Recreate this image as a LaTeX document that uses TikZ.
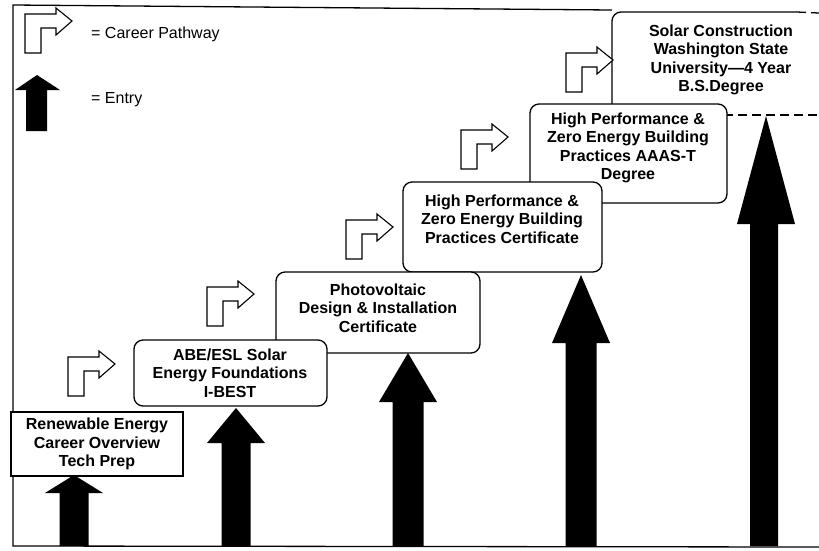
\documentclass[tikz,border=0pt]{standalone}
\usepackage{fontspec}
\setmainfont{Liberation Sans}
\begin{document}
\begin{tikzpicture}[x=1pt,y=-1pt,
  frameline/.style={line width=1.3pt},
  boxline/.style={line width=1.3pt},
  sqbox/.style={draw, boxline, fill=white, inner sep=0pt, outer sep=0pt, anchor=north west},
  rbox/.style={sqbox, rounded corners=9pt},
  boxtext/.style={align=center, inner sep=0pt, font=\bfseries\fontsize{16}{18.5}\selectfont},
  legtext/.style={anchor=west, inner sep=0pt, font=\fontsize{16}{18}\selectfont},
  entryfill/.style={fill=black},
  pathline/.style={draw, line width=1.1pt, fill=white, line join=miter},
  pathway/.pic={\path[pathline] (0,0) -- (0,-39) -- (31,-39) -- (31,-45) -- (47,-32) -- (31,-18) -- (31,-25) -- (16,-25) -- (16,0) -- cycle;}
]
\useasboundingbox (0,0) rectangle (819,550);
\fill[white] (0,0) rectangle (819,550);
% frame
\draw[frameline] (612,10) -- (13,5) -- (13,546) -- (819,547);
% box 6 (cut by the page edge)
\begin{scope}
\clip (0,0) rectangle (819,550);
\node[inner sep=0pt, outer sep=0pt, minimum width=218pt, minimum height=103pt, anchor=north west] (b6) at (612,12) {};
\fill[white, rounded corners=9pt] (612,12) rectangle (830,115);
\draw[boxline, rounded corners=9pt] (b6.south west) -- (612,12) -- (797,12);
\draw[boxline, dash pattern=on 9pt off 5pt] (797,12) -- (819,13);
\draw[boxline, dash pattern=on 9pt off 5pt] (612,115) -- (819,115);
\end{scope}
\node[boxtext] (t6) at (721,60) {Solar Construction\\Washington State\\University—4 Year\\B.S.Degree};
% box 5
\node[rbox, minimum width=197pt, minimum height=99pt] (b5) at (530,104) {};
\node[boxtext] (t5) at (628,148) {High Performance \&\\Zero Energy Building\\Practices AAAS-T\\Degree};
% box 4
\node[rbox, minimum width=199pt, minimum height=90pt] (b4) at (403,182) {};
\node[boxtext] (t4) at (502,219) {High Performance \&\\Zero Energy Building\\Practices Certificate};
% box 3
\node[rbox, minimum width=204pt, minimum height=81pt] (b3) at (276,272) {};
\node[boxtext] (t3) at (378,308) {Photovoltaic\\Design \& Installation\\Certificate};
% box 2
\node[rbox, minimum width=193pt, minimum height=66pt] (b2) at (134,340) {};
\node[boxtext] (t2) at (230,373) {ABE/ESL Solar\\Energy Foundations\\I-BEST};
% box 1
\node[sqbox, minimum width=172pt, minimum height=64pt] (b1) at (11,412) {};
\node[boxtext] (t1) at (97,444) {Renewable Energy\\Career Overview\\Tech Prep};
% entry arrows
\fill[entryfill] (59.5,546) -- (59.5,493) -- (45,493) -- (74,475) -- (103,493) -- (88.5,493) -- (88.5,546) -- cycle;
\fill[entryfill] (221.5,546) -- (221.5,443) -- (207,443) -- (236,408) -- (265,443) -- (250.5,443) -- (250.5,546) -- cycle;
\fill[entryfill] (392.5,546) -- (392.5,402) -- (379,402) -- (408,353) -- (437,402) -- (423.5,402) -- (423.5,546) -- cycle;
\fill[entryfill] (565.5,546) -- (565.5,343) -- (552,343) -- (581,275) -- (610,343) -- (596.5,343) -- (596.5,546) -- cycle;
\fill[entryfill] (750,546) -- (750,224) -- (737,224) -- (766,116) -- (795,224) -- (778,224) -- (778,546) -- cycle;
% career pathway arrows
\pic at (68,396) {pathway};
\pic at (207,326) {pathway};
\pic at (346,259) {pathway};
\pic at (461,169) {pathway};
\pic at (566,92) {pathway};
% legend
\pic at (25,53) {pathway};
\node[legtext] (lp) at (91,34) {= Career Pathway};
\fill[entryfill] (26,131) -- (26,90) -- (15,90) -- (37,75) -- (60,90) -- (47,90) -- (47,131) -- cycle;
\node[legtext] (le) at (91,100) {= Entry};
\end{tikzpicture}
\end{document}
